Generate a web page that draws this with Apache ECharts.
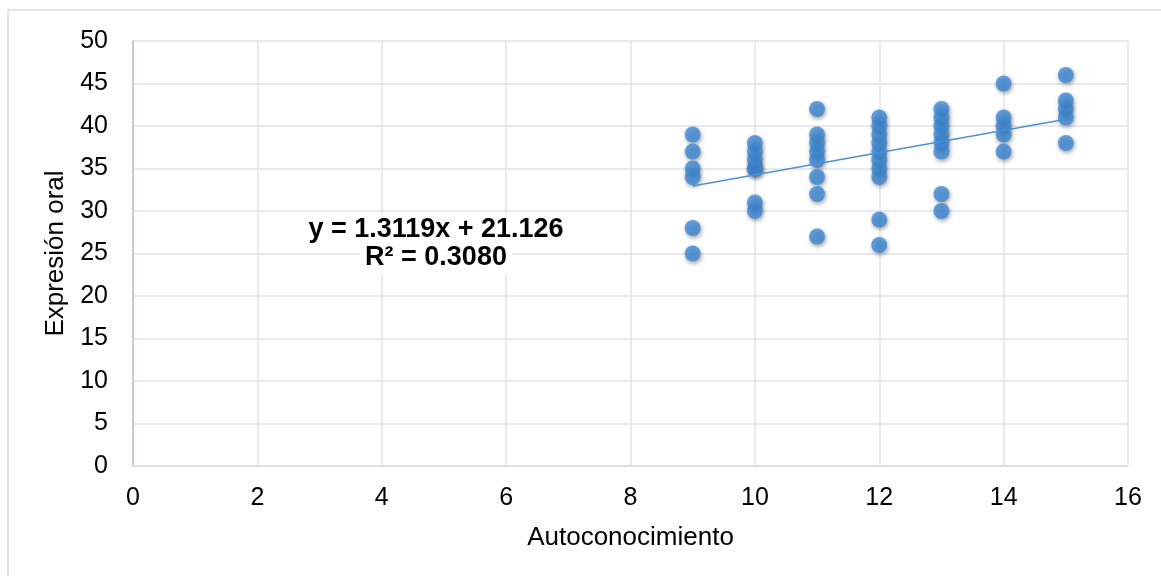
<!DOCTYPE html>
<html>
<head>
<meta charset="utf-8">
<script src="https://cdn.jsdelivr.net/npm/echarts@6/dist/echarts.min.js"></script>
<style>
  html, body { margin: 0; padding: 0; background: #fff; }
  #chart { width: 1161px; height: 576px; }
</style>
</head>
<body>
<div id="chart"></div>
<script>
// Autoconocimiento (x) vs Expresión oral (y)
const xVals = [9, 9, 9, 9, 9, 9,
  10, 10, 10, 10, 10, 10, 10,
  11, 11, 11, 11, 11, 11, 11, 11,
  12, 12, 12, 12, 12, 12, 12, 12, 12, 12,
  13, 13, 13, 13, 13, 13, 13, 13,
  14, 14, 14, 14, 14,
  15, 15, 15, 15, 15]
const yVals = [39, 37, 35, 34, 28, 25,
  38, 37, 36, 35, 35, 31, 30,
  42, 39, 38, 37, 36, 34, 32, 27,
  41, 40, 39, 38, 37, 36, 35, 34, 29, 26,
  42, 41, 40, 39, 38, 37, 32, 30,
  45, 41, 40, 39, 37,
  46, 43, 42, 41, 38]

// trend line shown in the chart
const slope = 1.3119
const intercept = 21.126
const trendX = [9, 15]
const eqLines = ['y = 1.3119x + 21.126', 'R² = 0.3080']

const xTitle = 'Autoconocimiento'
const yTitle = 'Expresión oral'

const points = xVals.map((x, i) => [x, yVals[i]])
const trend = trendX.map(x => [x, slope * x + intercept])

const chart = echarts.init(document.getElementById('chart'))
const font = 'Liberation Sans, Arial, sans-serif'

// one text block per equation line, white box hides grid behind it
const eqText = (txt, y) => ({
    type: 'text',
    x: 436, y: y,
    z: 10,
    style: {
        text: txt,
        font: 'bold 27px ' + font,
        fill: '#000',
        textAlign: 'center',
        textVerticalAlign: 'middle',
        backgroundColor: '#fff',
        padding: [2, 6]
    }
})

chart.setOption({
    animation: false,
    grid: { left: 133, right: 33, top: 41, bottom: 110 },
    xAxis: {
        type: 'value',
        min: 0, max: 16, interval: 2,
        name: xTitle,
        nameLocation: 'middle',
        nameGap: 59,
        nameTextStyle: { fontFamily: font, fontSize: 26, color: '#000' },
        axisLine: { show: true, lineStyle: { color: '#d9dde6', width: 1.5 } },
        axisTick: { show: false },
        axisLabel: { fontFamily: font, fontSize: 25, color: '#000', margin: 20 },
        splitLine: { show: true, lineStyle: { color: '#dfe3ea', width: 1.5 } }
    },
    yAxis: {
        type: 'value',
        min: 0, max: 50, interval: 5,
        name: yTitle,
        nameLocation: 'middle',
        nameGap: 63,
        nameRotate: 90,
        nameTextStyle: { fontFamily: font, fontSize: 26, color: '#000' },
        axisLine: { show: true, lineStyle: { color: '#b8c1d1', width: 1.5 } },
        axisTick: { show: false },
        axisLabel: { fontFamily: font, fontSize: 25, color: '#000', margin: 25 },
        splitLine: { show: true, lineStyle: { color: '#dfe3ea', width: 1.5 } }
    },
    graphic: [
        {
            type: 'rect',
            shape: { x: 8, y: 10, width: 1200, height: 600 },
            style: { fill: 'none', stroke: '#d9dde3', lineWidth: 1.5 },
            silent: true
        },
        eqText(eqLines[0], 230),
        eqText(eqLines[1], 258)
    ],
    series: [
        {
            type: 'scatter',
            data: points,
            symbolSize: 16,
            itemStyle: {
                color: '#3f8ad6',
                shadowBlur: 4,
                shadowColor: 'rgba(0,0,0,0.45)',
                shadowOffsetX: 1,
                shadowOffsetY: 2
            },
            z: 3
        },
        {
            type: 'line',
            data: trend,
            symbol: 'none',
            lineStyle: { color: '#4a90d9', width: 1.5 },
            z: 4
        }
    ]
})
</script>
</body>
</html>
